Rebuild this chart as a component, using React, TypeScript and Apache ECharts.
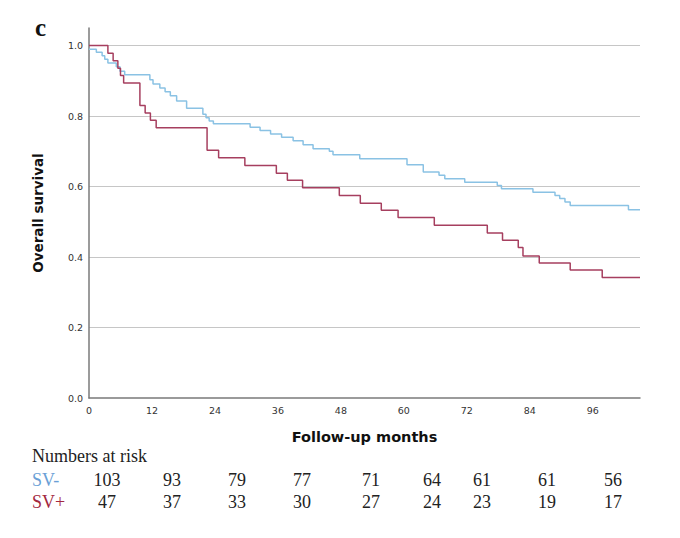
import React, { useEffect, useRef } from "react";
import * as echarts from "echarts";

// Kaplan–Meier step points: [month, survival after event]
const svMinus: [number, number][] = [
  [0, 0.99], [1.4, 0.981], [2.5, 0.971], [3.0, 0.961], [3.6, 0.951], [5.2, 0.94],
  [5.9, 0.927], [6.8, 0.917], [11.6, 0.903], [12.2, 0.891], [13.5, 0.88],
  [14.5, 0.869], [15.5, 0.858], [16.7, 0.843], [18.6, 0.822], [21.7, 0.805],
  [22.3, 0.795], [22.9, 0.786], [23.7, 0.778], [30.7, 0.768], [32.6, 0.759],
  [34.6, 0.749], [36.7, 0.74], [38.9, 0.73], [40.8, 0.719], [42.7, 0.707],
  [45.8, 0.7], [46.5, 0.69], [51.6, 0.679], [60.6, 0.662], [63.7, 0.641],
  [66.7, 0.632], [67.8, 0.622], [71.6, 0.612], [77.8, 0.603], [78.6, 0.594],
  [84.6, 0.584], [88.8, 0.575], [89.7, 0.566], [90.7, 0.556], [91.7, 0.546],
  [102.8, 0.534], [105, 0.534],
];

const svPlus: [number, number][] = [
  [0, 1.0], [3.6, 0.978], [4.6, 0.957], [5.5, 0.936], [6.0, 0.915], [6.6, 0.894],
  [9.7, 0.83], [10.7, 0.809], [11.7, 0.788], [12.8, 0.767], [22.5, 0.703],
  [24.7, 0.682], [29.7, 0.66], [35.7, 0.638], [37.8, 0.618], [40.7, 0.597],
  [47.7, 0.575], [51.7, 0.553], [55.7, 0.533], [58.9, 0.512], [65.8, 0.49],
  [75.9, 0.468], [78.8, 0.448], [81.8, 0.427], [82.7, 0.403], [85.8, 0.383],
  [91.7, 0.363], [97.8, 0.342], [105, 0.342],
];

const riskGroups = ["SV-", "SV+"];
const riskSVminus = [103, 93, 79, 77, 71, 64, 61, 61, 56];
const riskSVplus = [47, 37, 33, 30, 27, 24, 23, 19, 17];
const riskColumnX = [107, 172, 237, 302, 371, 432, 482, 547, 613];

const BLUE = "#8ac2e4";
const RED = "#a63f5f";

export default function App() {
  const ref = useRef<HTMLDivElement>(null);

  useEffect(() => {
    if (!ref.current) return;
    const chart = echarts.init(ref.current, undefined, { renderer: "svg" });

    const serif = "'Liberation Serif', 'Times New Roman', serif";
    const sans = "'DejaVu Sans', Verdana, sans-serif";

    const tableTexts: any[] = [
      {
        type: "text",
        x: 32,
        y: 456,
        style: { text: "Numbers at risk", font: `18px ${serif}`, fill: "#222", textVerticalAlign: "middle" },
      },
      {
        type: "text",
        x: 32,
        y: 480,
        style: { text: riskGroups[0], font: `18px ${serif}`, fill: "#6a9fd6", textVerticalAlign: "middle" },
      },
      {
        type: "text",
        x: 32,
        y: 502,
        style: { text: riskGroups[1], font: `18px ${serif}`, fill: "#a3283f", textVerticalAlign: "middle" },
      },
    ];
    riskSVminus.forEach((v, i) => {
      tableTexts.push({
        type: "text",
        x: riskColumnX[i],
        y: 480,
        style: { text: String(v), font: `18px ${serif}`, fill: "#222", textAlign: "center", textVerticalAlign: "middle" },
      });
    });
    riskSVplus.forEach((v, i) => {
      tableTexts.push({
        type: "text",
        x: riskColumnX[i],
        y: 502,
        style: { text: String(v), font: `18px ${serif}`, fill: "#222", textAlign: "center", textVerticalAlign: "middle" },
      });
    });

    chart.setOption({
      animation: false,
      backgroundColor: "#ffffff",
      grid: { left: 89, right: 40, top: 28, bottom: 140, containLabel: false },
      xAxis: {
        type: "value",
        min: 0,
        max: 105,
        interval: 12,
        name: "Follow-up months",
        nameLocation: "middle",
        nameGap: 31,
        nameTextStyle: { fontFamily: sans, fontWeight: "bold", fontSize: 14.5, color: "#111" },
        axisLine: { show: true, lineStyle: { color: "#7a7a7a", width: 1.5 } },
        axisTick: { show: false },
        axisLabel: { fontFamily: sans, fontSize: 9.5, color: "#333", margin: 7, showMaxLabel: false },
        splitLine: { show: false },
      },
      yAxis: {
        type: "value",
        min: 0,
        max: 1.05,
        interval: 0.2,
        name: "Overall survival",
        nameLocation: "middle",
        nameGap: 44,
        nameTextStyle: { fontFamily: sans, fontWeight: "bold", fontSize: 13.5, color: "#111" },
        axisLine: { show: true, lineStyle: { color: "#7a7a7a", width: 1.5 } },
        axisTick: { show: false },
        axisLabel: {
          fontFamily: sans,
          fontSize: 9.5,
          color: "#333",
          margin: 6,
          showMaxLabel: false,
          formatter: (v: number) => v.toFixed(1),
        },
        splitLine: { show: true, showMaxLine: false, showMinLine: false, lineStyle: { color: "#c6c6c6", width: 1 } },
      },
      series: [
        {
          name: "SV-",
          type: "line",
          step: "end",
          data: svMinus,
          showSymbol: false,
          lineStyle: { color: BLUE, width: 1.5 },
          z: 3,
        },
        {
          name: "SV+",
          type: "line",
          step: "end",
          data: svPlus,
          showSymbol: false,
          lineStyle: { color: RED, width: 1.5 },
          z: 4,
        },
      ],
      graphic: [
        {
          type: "text",
          x: 35,
          y: 27,
          style: { text: "c", font: `bold 25px ${serif}`, fill: "#111", textVerticalAlign: "middle" },
        },
        ...tableTexts,
      ],
    });

    return () => chart.dispose();
  }, []);

  return (
    <div
      ref={ref}
      style={{ position: "fixed", left: 0, top: 0, width: 680, height: 538, background: "#fff" }}
    />
  );
}
